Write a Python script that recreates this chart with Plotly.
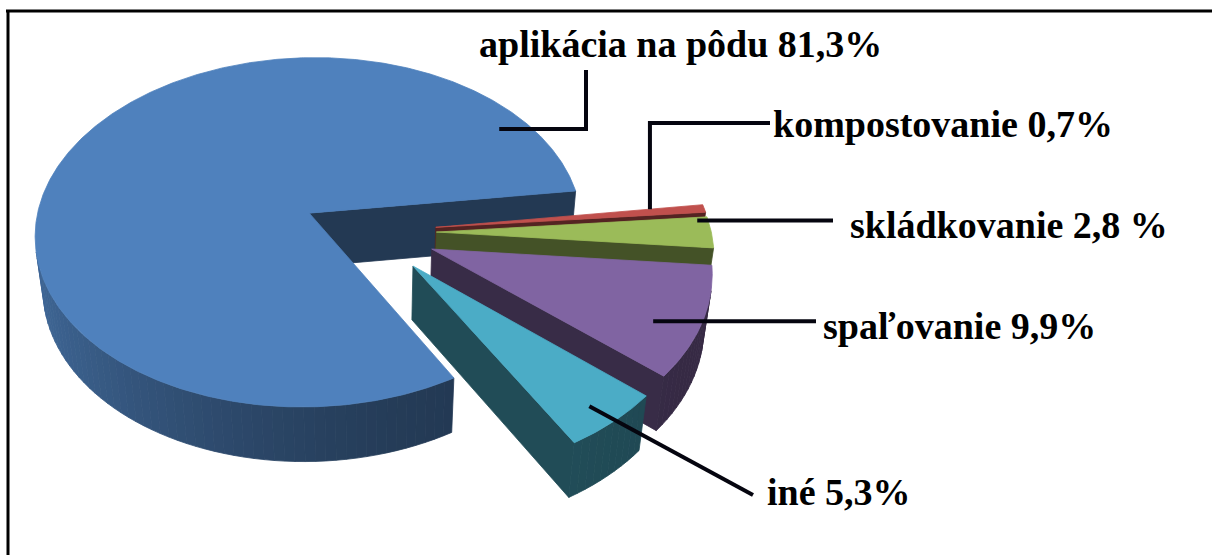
import numpy as np
import plotly.graph_objects as go

# ---------------- data ----------------
categories = ["aplikácia na pôdu", "kompostovanie", "skládkovanie", "spaľovanie", "iné"]
values = [81.3, 0.7, 2.8, 9.9, 5.3]
value_text = ["81,3%", "0,7%", "2,8 %", "9,9%", "5,3%"]
colors = ["#4F81BD", "#C0504D", "#9BBB59", "#8064A2", "#4BACC6"]

# ---------------- 3D pie look (style) ----------------
W, H_PX = 1212, 555
FIRST_END_DEG = 7.5      # angle where the first slice ends (clockwise order)
EXPLODE = 0.245          # explosion, fraction of radius
THICK = 0.26             # pie thickness, fraction of radius
ELEV = np.radians(40.0)  # camera elevation
DIST = 6.9               # camera distance (radius units)
FOCAL = 1897.0
OX, OY = 369.0, 232.0    # screen position of pie centre
S, C = np.sin(ELEV), np.cos(ELEV)
CAM = np.array([0.0, -DIST * C, DIST * S])


def project(x, y, z):
    x, y, z = np.asarray(x, float), np.asarray(y, float), np.asarray(z, float)
    yc = y * S + z * C
    zc = DIST + y * C - z * S
    return OX + FOCAL * x / zc, OY - FOCAL * yc / zc


def shade(hex_color, k):
    h = hex_color.lstrip("#")
    r, g, b = (int(h[i:i + 2], 16) for i in (0, 2, 4))
    return "rgb(%d,%d,%d)" % (round(r * k), round(g * k), round(b * k))


def visible(point, normal):
    return np.dot(CAM - np.asarray(point), np.asarray(normal)) > 0


total = float(sum(values))
spans = [v / total * 360.0 for v in values]
cur = FIRST_END_DEG + spans[0]
bounds = []
for sp in spans:
    bounds.append((cur - sp, cur))
    cur -= sp

fig = go.Figure()


def poly(xs, ys, color):
    xs = list(xs) + [xs[0]]
    ys = list(ys) + [ys[0]]
    fig.add_trace(go.Scatter(x=xs, y=ys, mode="lines", fill="toself", fillcolor=color,
                             line=dict(color=color, width=0.8), hoverinfo="skip",
                             showlegend=False))


slices = []
for i, (lo, hi) in enumerate(bounds):
    mid = np.radians((lo + hi) / 2)
    off = (EXPLODE * np.cos(mid), EXPLODE * np.sin(mid))
    slices.append(dict(i=i, lo=lo, hi=hi, off=off, depth=np.sin(mid)))

# far slices first
for sl in sorted(slices, key=lambda d: -d["depth"]):
    i, lo, hi = sl["i"], sl["lo"], sl["hi"]
    ox, oy = sl["off"]
    col = colors[i]

    # radial faces
    for ang, sign in ((lo, -1), (hi, 1)):
        a = np.radians(ang)
        normal = (-sign * np.sin(a), sign * np.cos(a), 0.0)
        rx, ry = ox + np.cos(a), oy + np.sin(a)
        ctr = (ox + 0.5 * np.cos(a), oy + 0.5 * np.sin(a), -THICK / 2)
        if visible(ctr, normal):
            px, py = project([ox, rx, rx, ox], [oy, ry, ry, oy], [0, 0, -THICK, -THICK])
            poly(px, py, shade(col, 0.44))

    # outer curved side, in thin strips with shading
    n = max(2, int(np.ceil((hi - lo) / 2.0)))
    ts = np.linspace(lo, hi, n + 1)
    for t1, t2 in zip(ts[:-1], ts[1:]):
        tm = np.radians((t1 + t2) / 2)
        pm = (ox + np.cos(tm), oy + np.sin(tm), -THICK / 2)
        if not visible(pm, (np.cos(tm), np.sin(tm), 0.0)):
            continue
        a1, a2 = np.radians(t1), np.radians(t2)
        xs = [ox + np.cos(a1), ox + np.cos(a2), ox + np.cos(a2), ox + np.cos(a1)]
        ys = [oy + np.sin(a1), oy + np.sin(a2), oy + np.sin(a2), oy + np.sin(a1)]
        zs = [0, 0, -THICK, -THICK]
        px, py = project(xs, ys, zs)
        k = 0.42 + 0.38 * ((1 - np.cos(tm)) / 2) ** 2
        poly(px, py, shade(col, k))

    # top face
    arc = np.radians(np.linspace(lo, hi, max(3, int((hi - lo) * 2))))
    xs = np.concatenate([[ox], ox + np.cos(arc)])
    ys = np.concatenate([[oy], oy + np.sin(arc)])
    px, py = project(xs, ys, np.zeros_like(xs))
    poly(px, py, col)

# ---------------- labels with leader lines ----------------
# anchor: position inside slice (fraction of its angle, fraction of radius); route: elbows
label_layout = [
    dict(frac=0.095, r=0.89, route=[("h", 586), ("v", 70)], tx=477, ty=44),
    dict(frac=1.0, r=0.80, route=[("v", 123), ("h", 770)], tx=771, ty=124),
    dict(frac=0.9, r=0.96, route=[("h", 833)], tx=848, ty=225),
    dict(frac=0.386, r=0.845, route=[("h", 816)], tx=821, ty=326),
    dict(frac=0.46, r=0.90, route=[("p", 753, 495)], tx=765, ty=492),
]
LINE_COL = "#05050f"
for sl in slices:
    i = sl["i"]
    L = label_layout[i]
    ang = np.radians(sl["lo"] + L["frac"] * (sl["hi"] - sl["lo"]))
    ax_, ay_ = project(sl["off"][0] + L["r"] * np.cos(ang), sl["off"][1] + L["r"] * np.sin(ang), 0.0)
    xs, ys = [float(ax_)], [float(ay_)]
    for step in L["route"]:
        if step[0] == "h":
            xs.append(step[1]); ys.append(ys[-1])
        elif step[0] == "v":
            xs.append(xs[-1]); ys.append(step[1])
        else:
            xs.append(step[1]); ys.append(step[2])
    fig.add_trace(go.Scatter(x=xs, y=ys, mode="lines", line=dict(color=LINE_COL, width=4),
                             hoverinfo="skip", showlegend=False))
    fig.add_annotation(x=L["tx"], y=L["ty"], xref="x", yref="y", xanchor="left", yanchor="middle",
                       text=f"{categories[i]} {value_text[i]}", showarrow=False,
                       font=dict(family="Liberation Serif", size=38, color="#000000", weight="bold"))

# frame
fig.add_shape(type="line", x0=6, x1=W, y0=11, y1=11, xref="x", yref="y",
              line=dict(color="#000000", width=3))
fig.add_shape(type="line", x0=8, x1=8, y0=10, y1=H_PX, xref="x", yref="y",
              line=dict(color="#000000", width=3))

fig.update_layout(
    width=W, height=H_PX, margin=dict(l=0, r=0, t=0, b=0),
    paper_bgcolor="white", plot_bgcolor="white", showlegend=False,
    xaxis=dict(range=[0, W], visible=False, fixedrange=True),
    yaxis=dict(range=[H_PX, 0], visible=False, fixedrange=True),
)
fig.write_html("out.html", config={"displayModeBar": False, "staticPlot": True},
               post_script="document.body.style.margin='0';document.body.style.overflow='hidden';")
